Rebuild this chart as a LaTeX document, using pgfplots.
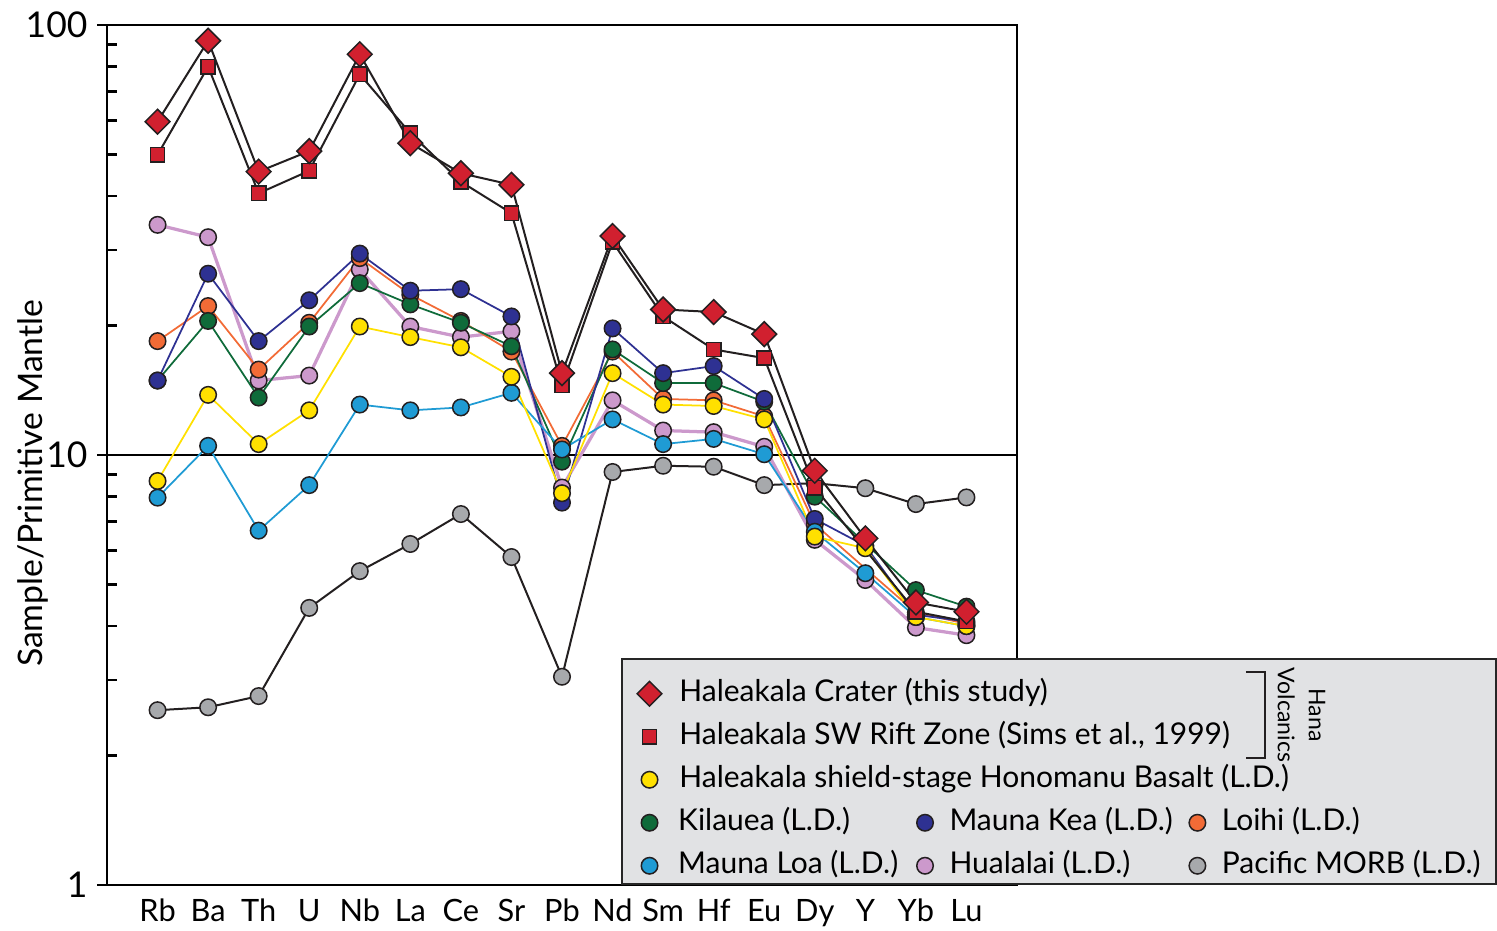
\documentclass[border=0pt]{standalone}
\usepackage{fontspec}
\setmainfont{Lato}
\usepackage{pgfplots}
\pgfplotsset{compat=1.18}
\definecolor{cred}{HTML}{D1202F}
\definecolor{cyel}{HTML}{FFE000}
\definecolor{cgrn}{HTML}{0F6B3A}
\definecolor{cnav}{HTML}{2E3192}
\definecolor{cora}{HTML}{F26B36}
\definecolor{ccya}{HTML}{1F9BD4}
\definecolor{clil}{HTML}{CC99CC}
\definecolor{cgry}{HTML}{A7A9AC}
\definecolor{edge}{HTML}{231F20}
\definecolor{legfill}{HTML}{E1E2E4}
\pgfplotsset{
  markonly/.style={legend image code/.code={\draw[##1] plot coordinates {(0pt,0pt)};}},
  circ/.style={mark=*, mark size=3.3pt, mark options={solid, draw=edge, line width=0.6pt, fill=#1}},
}
\begin{document}
\begin{tikzpicture}
\begin{axis}[
  name=ax, scale only axis, width=364pt, height=344pt,
  xmin=-1, xmax=17, ymin=1, ymax=100, ymode=log,
  xtick={0,...,16},
  xticklabels={Rb,Ba,Th,U,Nb,La,Ce,Sr,Pb,Nd,Sm,Hf,Eu,Dy,Y,Yb,Lu},
  xtick style={draw=none},
  ytick={1,10,100}, yticklabels={1,10,100},
  minor ytick={2,3,4,5,6,7,8,9,20,30,40,50,60,70,80,90},
  ytick pos=left, tick align=inside, major tick length=0pt, minor tick length=4pt,
  minor tick style={line width=1pt, black},
  axis line style={line width=1pt},
  yticklabel style={font=\fontsize{14.2}{16}\selectfont, inner xsep=0pt, xshift=-7.6pt},
  xticklabel style={font=\fontsize{12.3}{14}\selectfont, inner ysep=0pt, yshift=-5.5pt, text height=9pt, text depth=2.5pt},
  ylabel={Sample/Primitive Mantle},
  ylabel style={font=\fontsize{13.5}{15}\selectfont, at={(rel axis cs:-0.0714,0.467)}, anchor=base},
  clip=false,
  legend columns=3,
  legend cell align=left,
  legend style={at={(rel axis cs:0.565,0)}, anchor=south west, fill=legfill, draw=black!85, line width=0.8pt,
    inner xsep=6pt, inner ysep=1.7pt, row sep=6pt, font=\fontsize{12}{14}\selectfont,
    nodes={inner xsep=0pt, inner ysep=0pt, text height=8.5pt, text depth=2.7pt},
    /tikz/every odd column/.append style={column sep=6.5pt}},
]
% reference line and outward major ticks
\draw[line width=1pt] (axis cs:-1,10) -- (axis cs:17,10);
\draw[line width=1pt] (axis cs:-1,10) -- ++(-4pt,0pt);
\draw[line width=1pt] (axis cs:-1,100) -- ++(-4pt,0pt);
\draw[line width=1pt] (axis cs:-1,1) -- ++(-4pt,0pt);

% Pacific MORB
\addplot[draw=edge, line width=0.8pt, circ=cgry, forget plot] coordinates {
(0,2.55)(1,2.59)(2,2.75)(3,4.41)(4,5.37)(5,6.21)(6,7.29)(7,5.79)(8,3.05)(9,9.13)(10,9.44)(11,9.39)(12,8.51)(13,8.6)(14,8.37)(15,7.69)(16,7.97)};
% Hualalai
\addplot[draw=clil, line width=1.3pt, circ=clil, forget plot] coordinates {
(0,34.3)(1,32.1)(2,14.9)(3,15.3)(4,27.0)(5,19.9)(6,18.8)(7,19.4)(8,8.4)(9,13.4)(10,11.4)(11,11.3)(12,10.45)(13,6.35)(14,5.12)(15,3.97)(16,3.81)};
% Loihi
\addplot[draw=cora, line width=0.7pt, circ=cora, forget plot] coordinates {
(0,18.4)(1,22.2)(2,15.8)(3,20.3)(4,28.7)(5,23.6)(6,20.5)(7,17.4)(8,10.5)(9,17.4)(10,13.5)(11,13.4)(12,12.3)(13,6.9)(15,4.3)(16,4.05)};
% Kilauea
\addplot[draw=cgrn, line width=0.7pt, circ=cgrn, forget plot] coordinates {
(0,14.9)(1,20.5)(2,13.6)(3,19.9)(4,25.1)(5,22.4)(6,20.3)(7,17.9)(8,9.65)(9,17.6)(10,14.7)(11,14.7)(12,13.3)(13,8.0)(15,4.85)(16,4.44)};
% Mauna Kea
\addplot[draw=cnav, line width=0.7pt, circ=cnav, forget plot] coordinates {
(0,14.9)(1,26.4)(2,18.4)(3,22.9)(4,29.4)(5,24.1)(6,24.3)(7,21.0)(8,7.75)(9,19.7)(10,15.5)(11,16.1)(12,13.5)(13,7.1)(14,6.15)(15,4.25)(16,4.1)};
% Mauna Loa
\addplot[draw=ccya, line width=0.7pt, circ=ccya, forget plot] coordinates {
(0,7.96)(1,10.5)(2,6.67)(3,8.51)(4,13.1)(5,12.7)(6,12.9)(7,13.95)(8,10.3)(9,12.1)(10,10.6)(11,10.9)(12,10.04)(13,6.63)(14,5.31)(15,4.2)(16,4.0)};
% Honomanu shield
\addplot[draw=cyel, line width=0.7pt, circ=cyel, forget plot] coordinates {
(0,8.70)(1,13.8)(2,10.6)(3,12.7)(4,19.9)(5,18.8)(6,17.8)(7,15.2)(8,8.15)(9,15.5)(10,13.1)(11,13.0)(12,12.1)(13,6.46)(14,6.07)(15,4.2)(16,4.0)};
% SW Rift Zone
\addplot[draw=edge, line width=0.8pt, mark=square*, mark size=2.85pt, mark options={solid, draw=edge, line width=0.6pt, fill=cred}, forget plot] coordinates {
(0,49.9)(1,80.0)(2,40.6)(3,45.8)(4,76.8)(5,56.0)(6,43.2)(7,36.5)(8,14.5)(9,31.3)(10,21.0)(11,17.6)(12,16.8)(13,8.39)(15,4.32)(16,4.10)};
% Haleakala Crater
\addplot[draw=edge, line width=0.8pt, mark=square*, mark size=3.5pt, mark options={solid, rotate=45, draw=edge, line width=0.6pt, fill=cred}, forget plot] coordinates {
(0,59.6)(1,91.9)(2,45.6)(3,50.9)(4,85.5)(5,53.1)(6,45.2)(7,42.5)(8,15.5)(9,32.3)(10,21.8)(11,21.5)(12,19.1)(13,9.19)(14,6.40)(15,4.54)(16,4.32)};

% legend
\addlegendimage{markonly, mark=square*, mark size=3.5pt, mark options={rotate=45, draw=edge, line width=0.6pt, fill=cred}}
\addlegendentry{\makebox[0pt][l]{Haleakala Crater (this study)}}
\addlegendimage{legend image code/.code={\path[draw=none, fill=none] (0pt,-1pt) -- (0pt,12.3pt);}}
\addlegendentry{}
\addlegendimage{empty legend}
\addlegendentry{}
\addlegendimage{markonly, mark=square*, mark size=2.85pt, mark options={draw=edge, line width=0.6pt, fill=cred}}
\addlegendentry{\makebox[0pt][l]{Haleakala SW Rift Zone (Sims et al., 1999)}}
\addlegendimage{empty legend}
\addlegendentry{}
\addlegendimage{empty legend}
\addlegendentry{}
\addlegendimage{markonly, circ=cyel}
\addlegendentry{\makebox[0pt][l]{Haleakala shield-stage Honomanu Basalt (L.D.)}}
\addlegendimage{empty legend}
\addlegendentry{}
\addlegendimage{empty legend}
\addlegendentry{}
\addlegendimage{markonly, circ=cgrn}
\addlegendentry{\makebox[95.45pt][l]{Kilauea (L.D.)}}
\addlegendimage{markonly, circ=cnav}
\addlegendentry{\makebox[95.85pt][l]{Mauna Kea (L.D.)}}
\addlegendimage{markonly, circ=cora}
\addlegendentry{\makebox[103.5pt][l]{Loihi (L.D.)}}
\addlegendimage{markonly, circ=ccya}
\addlegendentry{\makebox[95.45pt][l]{Mauna Loa (L.D.)}}
\addlegendimage{markonly, circ=clil}
\addlegendentry{\makebox[95.85pt][l]{Hualalai (L.D.)}}
\addlegendimage{markonly, circ=cgry}
\addlegendentry{\makebox[103.5pt][l]{Pacific MORB (L.D.)}}

\coordinate (hb1) at (rel axis cs:1.2516,0.2480);
\coordinate (hb2) at (rel axis cs:1.2725,0.2480);
\coordinate (hb3) at (rel axis cs:1.2725,0.1473);
\coordinate (hb4) at (rel axis cs:1.2516,0.1473);
\coordinate (hc) at (rel axis cs:1.3126,0.1977);
\coordinate (bbA) at (rel axis cs:-0.11758,-0.05233);
\coordinate (bbB) at (rel axis cs:1.52747,1.02907);
\end{axis}
\draw[line width=0.8pt, edge] (hb1) -- (hb2) -- (hb3) -- (hb4);
\node[rotate=-90, align=center, font=\fontsize{9.2}{12.4}\selectfont, inner sep=0pt] at (hc) {Hana\\Volcanics};
\path (bbA) rectangle (bbB);
\end{tikzpicture}
\end{document}
